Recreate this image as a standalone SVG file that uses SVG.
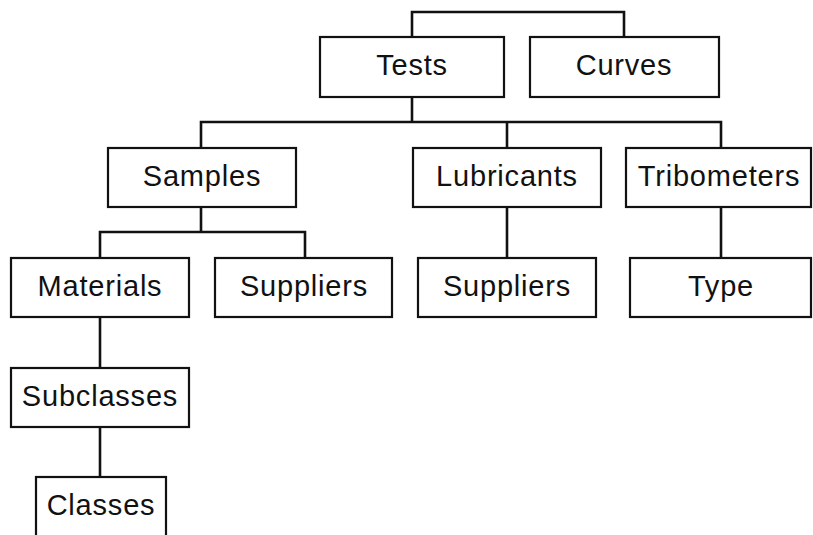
<svg xmlns="http://www.w3.org/2000/svg" width="813" height="535" viewBox="0 0 813 535">
<style>
.box{fill:#fff;stroke:#111;stroke-width:2.2}
.lbl{font-family:"Liberation Sans",Arial,Helvetica,sans-serif;font-size:29px;letter-spacing:0.8px;fill:#111;text-anchor:middle}
.con{fill:none;stroke:#111;stroke-width:2.6}
</style>
<rect width="813" height="535" fill="#fff"/>
<g id="connectors">
<path class="con" d="M412,37 V12 H624 V37"/>
<path class="con" d="M412,97 V122"/>
<path class="con" d="M201,148 V122 H721 V148"/>
<path class="con" d="M507,122 V148"/>
<path class="con" d="M201,207 V232"/>
<path class="con" d="M100,258 V232 H305 V258"/>
<path class="con" d="M507,207 V258"/>
<path class="con" d="M721,207 V258"/>
<path class="con" d="M100,317 V368"/>
<path class="con" d="M100,427 V477"/>
</g>
<g id="tests"><rect class="box" x="320" y="37" width="184" height="60"/><text class="lbl" x="412" y="75">Tests</text></g>
<g id="curves"><rect class="box" x="530" y="37" width="189" height="60"/><text class="lbl" x="624" y="75">Curves</text></g>
<g id="samples"><rect class="box" x="108" y="148" width="188" height="59"/><text class="lbl" x="202" y="186">Samples</text></g>
<g id="lubricants"><rect class="box" x="413" y="148" width="188" height="59"/><text class="lbl" x="507" y="186">Lubricants</text></g>
<g id="tribometers"><rect class="box" x="626" y="148" width="185" height="59"/><text class="lbl" x="719" y="186">Tribometers</text></g>
<g id="materials"><rect class="box" x="11" y="258" width="178" height="59"/><text class="lbl" x="100" y="296">Materials</text></g>
<g id="suppliers1"><rect class="box" x="215" y="258" width="177" height="59"/><text class="lbl" x="304" y="296">Suppliers</text></g>
<g id="suppliers2"><rect class="box" x="418" y="258" width="178" height="59"/><text class="lbl" x="507" y="296">Suppliers</text></g>
<g id="type"><rect class="box" x="630" y="258" width="181" height="59"/><text class="lbl" x="721" y="296">Type</text></g>
<g id="subclasses"><rect class="box" x="11" y="368" width="178" height="59"/><text class="lbl" x="100" y="406">Subclasses</text></g>
<g id="classes"><rect class="box" x="36" y="477" width="130" height="62"/><text class="lbl" x="101" y="515">Classes</text></g>
</svg>
